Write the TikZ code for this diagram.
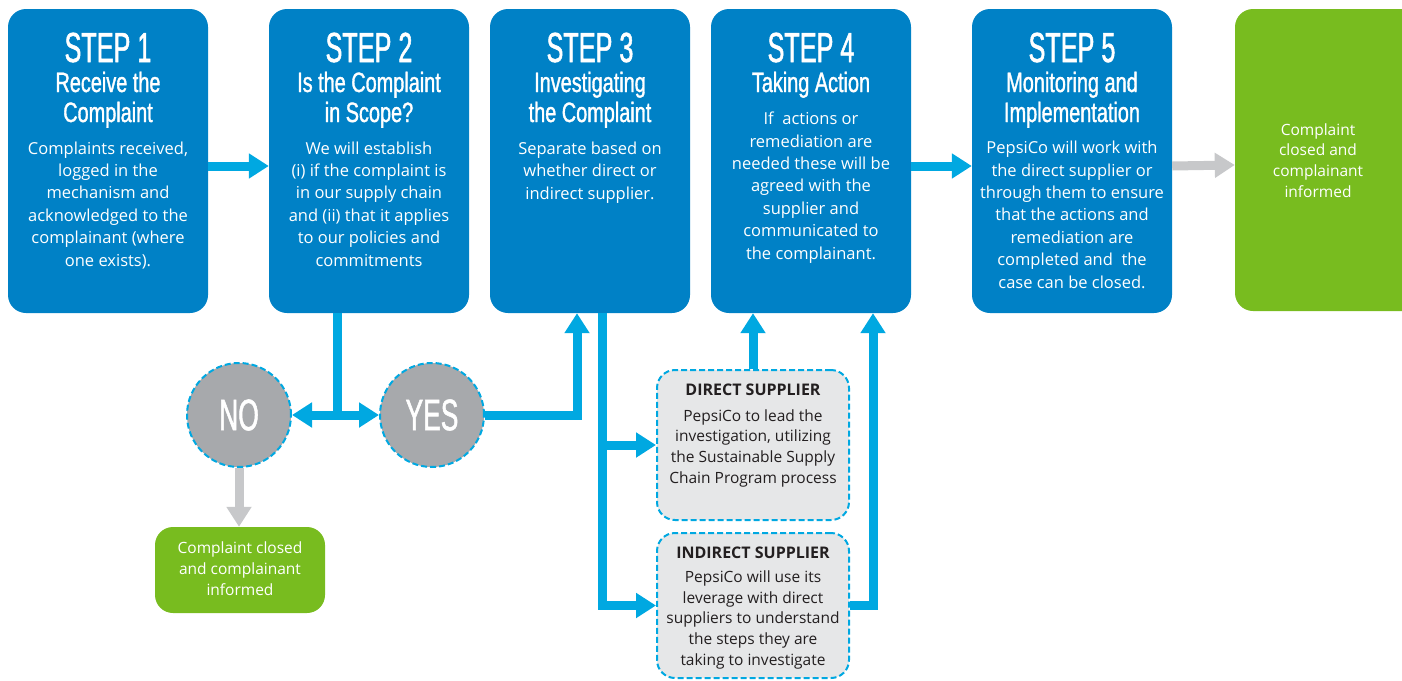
\documentclass[tikz,border=0pt]{standalone}
\usepackage{fontspec}
\setmainfont{Open Sans}
\newfontfamily\cond[FakeStretch=0.6,FakeBold=1.2]{Liberation Sans}
\newfontfamily\condsub[FakeStretch=0.71,FakeBold=1.2]{Liberation Sans}
\usetikzlibrary{arrows.meta}
\definecolor{boxblue}{HTML}{0081C6}
\definecolor{arrblue}{HTML}{00A8E1}
\definecolor{lgreen}{HTML}{78BC1F}
\definecolor{cgray}{HTML}{A7A9AC}
\definecolor{agray}{HTML}{C7C8CA}
\definecolor{sfill}{HTML}{E6E7E8}
\definecolor{dtext}{HTML}{231F20}
\tikzset{
 stepbox/.style={fill=boxblue, rounded corners=18pt, minimum width=200pt, minimum height=304pt, inner sep=0pt},
 greenbox/.style={fill=lgreen, rounded corners=18pt, inner sep=0pt},
 supbox/.style={fill=sfill, draw=arrblue, dash pattern=on 6pt off 3pt, line width=2pt, rounded corners=18pt, minimum width=192pt, inner sep=0pt},
 decision/.style={circle, fill=cgray, draw=arrblue, dash pattern=on 6pt off 3pt, line width=2pt, minimum size=104pt, inner sep=0pt, text=white, font=\cond\fontsize{44}{44}\selectfont},
 steptitle/.style={text=white, font=\cond\fontsize{42}{42}\selectfont, anchor=base, inner sep=0pt},
 stepsub/.style={text=white, font=\condsub\fontsize{28}{30}\selectfont, align=center, anchor=base, inner sep=0pt},
 stepbody/.style={text=white, font=\fontsize{16.5}{22.35}\selectfont, align=center, anchor=base, inner sep=0pt},
 smallbody/.style={font=\fontsize{15.5}{20.6}\selectfont, align=center, anchor=base, inner sep=0pt},
 suptitle/.style={text=dtext, font=\bfseries\fontsize{16}{20}\selectfont, anchor=base, inner sep=0pt},
 conn/.style={draw=arrblue, line width=9pt},
 arr/.style={conn, -{Triangle[width=24pt,length=20pt]}},
 darr/.style={conn, {Triangle[width=24pt,length=20pt]}-{Triangle[width=24pt,length=20pt]}},
 garr/.style={draw=agray, line width=9pt, -{Triangle[width=24pt,length=20pt]}},
}
\begin{document}
\begin{tikzpicture}[x=1pt,y=-1pt]
\useasboundingbox (0,0) rectangle (1402,680);
% step boxes
\node[stepbox] (s1) at (108,161) {};
\node[stepbox] (s2) at (369,161) {};
\node[stepbox] (s3) at (590,161) {};
\node[stepbox] (s4) at (811,161) {};
\node[stepbox] (s5) at (1072,161) {};
\begin{scope}
\clip (0,0) rectangle (1402,680);
\node[greenbox, minimum width=185pt, minimum height=302pt] (g2) at (1327.5,160) {};
\end{scope}
\node[greenbox, minimum width=170pt, minimum height=86pt] (g1) at (240,570) {};
% decisions
\node[decision] (no) at (239,415) {NO};
\node[decision] (yes) at (432,415) {YES};
% supplier boxes
\node[supbox, minimum height=150pt] (dir) at (753,445) {};
\node[supbox, minimum height=145pt] (ind) at (753,605.5) {};
% connectors
\draw[arr] ([yshift=-5pt]s1.east) -- ([yshift=-5pt]s2.west);
\draw[arr] ([yshift=-5pt]s4.east) -- ([yshift=-5pt]s5.west);
\draw[garr] ([yshift=-5pt]s5.east) -- ([yshift=-5pt]g2.west);
\coordinate (j) at (337,415);
\draw[conn] (s2.south -| j) -- (j);
\draw[darr] (no) -- (yes);
\draw[garr] (no.south) -- (no.south |- g1.north);
\draw[arr] (yes) -| ([xshift=-13pt]s3.south);
\draw[arr] ([xshift=12pt]s3.south) |- (ind.west);
\draw[arr] ([xshift=12pt]s3.south |- dir.west) -- (dir.west);
\draw[arr] (dir.north) -- (dir.north |- s4.south);
\draw[arr] (ind.east) -| ([xshift=62pt]s4.south);
% step texts (base anchor = baseline of last line)
\node[steptitle] (t1) at (108,62) {STEP 1};
\node[stepsub] (u1) at (108,122) {Receive the\\Complaint};
\node[stepbody] (b1) at (108,266) {Complaints received,\\logged in the\\mechanism and\\acknowledged to the\\complainant (where\\one exists).};
\node[steptitle] (t2) at (369,62) {STEP 2};
\node[stepsub] (u2) at (369,122) {Is the Complaint\\in Scope?};
\node[stepbody] (b2) at (369,266) {We will establish\\(i) if the complaint is\\in our supply chain\\and (ii) that it applies\\to our policies and\\commitments};
\node[steptitle] (t3) at (590,62) {STEP 3};
\node[stepsub] (u3) at (590,122) {Investigating\\the Complaint};
\node[stepbody] (b3) at (590,199) {Separate based on\\whether direct or\\indirect supplier.};
\node[steptitle] (t4) at (811,62) {STEP 4};
\node[stepsub] (u4) at (811,92) {Taking Action};
\node[stepbody] (b4) at (811,259) {If\ \ actions or\\remediation are\\needed these will be\\agreed with the\\supplier and\\communicated to\\the complainant.};
\node[steptitle] (t5) at (1072,62) {STEP 5};
\node[stepsub] (u5) at (1072,122) {Monitoring and\\Implementation};
\node[stepbody] (b5) at (1072,288) {PepsiCo will work with\\the direct supplier or\\through them to ensure\\that the actions and\\remediation are\\completed and\ \ the\\case can be closed.};
% green texts
\node[smallbody, text=white] (gt2) at (1318,197) {Complaint\\closed and\\complainant\\informed};
\node[smallbody, text=white] (gt1) at (240,595) {Complaint closed\\and complainant\\informed};
% supplier texts
\node[suptitle] (dt) at (753,395) {DIRECT SUPPLIER};
\node[smallbody, text=dtext] (db) at (753,483) {PepsiCo to lead the\\investigation, utilizing\\the Sustainable Supply\\Chain Program process};
\node[suptitle] (it) at (753,558) {INDIRECT SUPPLIER};
\node[smallbody, text=dtext] (ib) at (753,665) {PepsiCo will use its\\leverage with direct\\suppliers to understand\\the steps they are\\taking to investigate};
\end{tikzpicture}
\end{document}
